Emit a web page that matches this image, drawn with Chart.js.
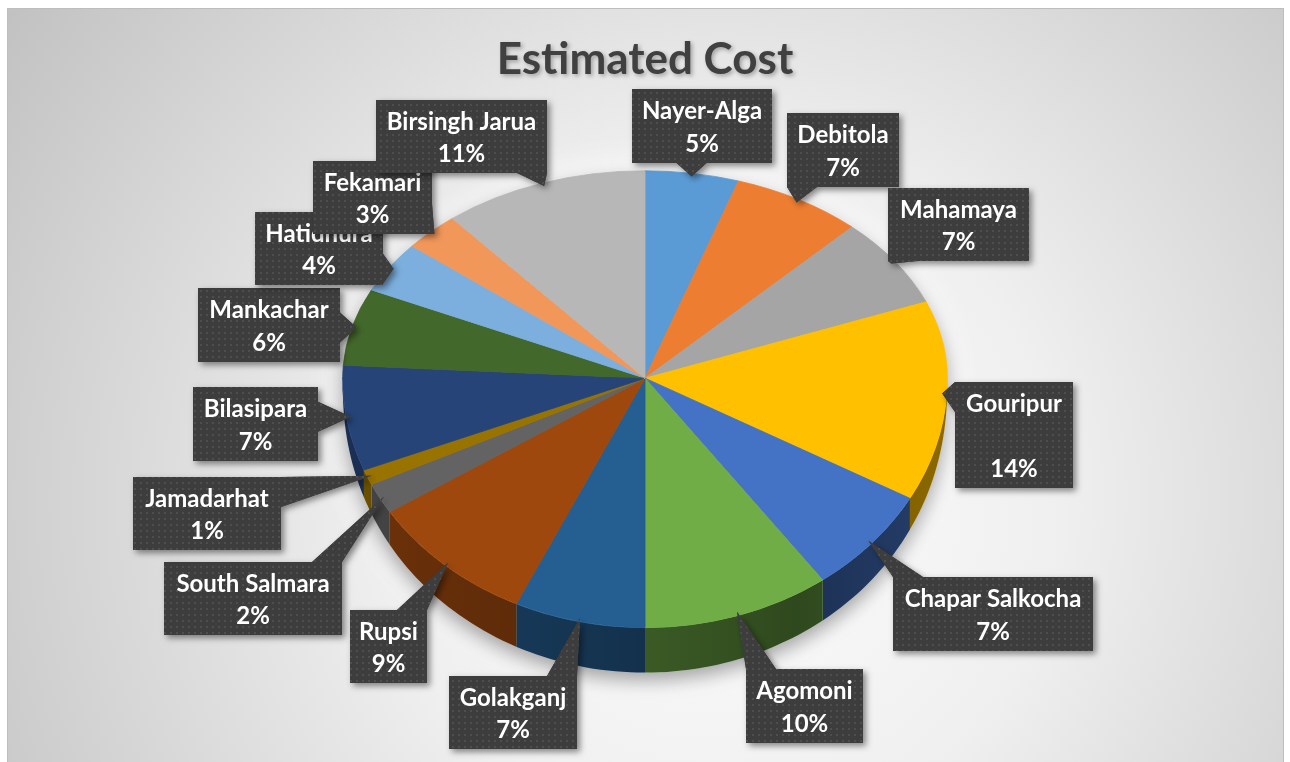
<!DOCTYPE html>
<html>
<head>
<meta charset="utf-8">
<title>Estimated Cost</title>
<script src="https://cdn.jsdelivr.net/npm/chart.js@4.4.1/dist/chart.umd.min.js"></script>
<style>
  html, body { margin: 0; padding: 0; background: #fff; overflow: hidden; }
  #costChart { display: block; }
</style>
</head>
<body>
<canvas id="costChart" width="1290" height="762"></canvas>
<script>
// share of the estimated cost per block, clockwise from 12 o'clock
const places = ["Nayer-Alga", "Debitola", "Mahamaya", "Gouripur", "Chapar Salkocha", "Agomoni", "Golakganj",
  "Rupsi", "South Salmara", "Jamadarhat", "Bilasipara", "Mankachar", "Hatidhura", "Fekamari", "Birsingh Jarua"];
const costShare = [5, 7, 7, 14, 7, 10, 7, 9, 2, 1, 7, 6, 4, 3, 11];
const sliceColors = ["#5b9bd5", "#ed7d31", "#a5a5a5", "#ffc000", "#4472c4", "#70ad47", "#255e91",
  "#9e480e", "#636363", "#997300", "#264478", "#43682b", "#7cafdd", "#f1975a", "#b7b7b7"];

// callout boxes [left, top, width, height]; Gouripur keeps an empty line between name and value
const calloutBoxes = [
  [632, 89, 140, 74], [787, 113, 112, 74], [888, 188, 141, 73], [955, 382, 118, 106], [893, 577, 200, 74],
  [746, 669, 117, 74], [449, 676, 128, 73], [350, 610, 77, 73], [164, 562, 178, 73], [133, 477, 148, 73],
  [193, 387, 125, 74], [198, 288, 142, 74], [255, 212, 128, 73], [313, 161, 119, 73], [376, 100, 171, 73]
];

const TILT_UP = 0.686, TILT_DOWN = 0.825, DEPTH = 45;

const panelBg = {
  id: "panelBg",
  beforeDraw(chart) {
    const { ctx, width, height } = chart;
    ctx.save();
    ctx.fillStyle = "#fff";
    ctx.fillRect(0, 0, width, height);
    const g = ctx.createRadialGradient(720, 500, 0, 720, 500, 860);
    g.addColorStop(0, "#fdfdfd");
    g.addColorStop(0.4, "#efefef");
    g.addColorStop(1, "#c2c2c2");
    ctx.fillStyle = g;
    ctx.fillRect(7, 8, 1277, height - 8);
    ctx.strokeStyle = "#bdbdbd";
    ctx.lineWidth = 1;
    ctx.strokeRect(7.5, 8.5, 1276, height);
    ctx.restore();
    // soft shadow under the title text, cleared again before the pie
    ctx.shadowColor = "rgba(0,0,0,0.3)";
    ctx.shadowBlur = 4;
    ctx.shadowOffsetX = 2;
    ctx.shadowOffsetY = 2;
  }
};

let dotPattern = null;
function getPattern(ctx) {
  if (dotPattern) return dotPattern;
  const c = document.createElement("canvas");
  c.width = 6; c.height = 6;
  const p = c.getContext("2d");
  p.fillStyle = "#3d3d3d"; p.fillRect(0, 0, 6, 6);
  p.fillStyle = "#4e4e4e"; p.fillRect(2, 2, 2, 2);
  dotPattern = ctx.createPattern(c, "repeat");
  return dotPattern;
}

const tiltedPie = {
  id: "tiltedPie",
  beforeDatasetsDraw(chart) {
    const { ctx, width, height } = chart;
    ctx.shadowColor = "transparent";
    ctx.shadowBlur = 0;
    ctx.shadowOffsetX = 0;
    ctx.shadowOffsetY = 0;
    const arcs = chart.getDatasetMeta(0).data;
    const cx = arcs[0].x, cy = arcs[0].y, r = arcs[0].outerRadius;
    const rim = (t, rr = r) => {
      const s = Math.sin(t);
      return [cx + rr * Math.cos(t), cy + rr * s * (s < 0 ? TILT_UP : TILT_DOWN)];
    };
    const drop = t => DEPTH * Math.sqrt(Math.max(0, Math.sin(t)));

    // outline of the whole body, used for glow and drop shadow
    const outline = () => {
      ctx.beginPath();
      for (let i = 0; i <= 60; i++) {
        const t = Math.PI * i / 60, p = rim(t);
        i ? ctx.lineTo(p[0], p[1] + drop(t)) : ctx.moveTo(p[0], p[1] + drop(t));
      }
      for (let i = 0; i <= 60; i++) {
        const t = Math.PI + Math.PI * i / 60, p = rim(t);
        ctx.lineTo(p[0], p[1]);
      }
      ctx.closePath();
    };
    ctx.save();
    outline();
    ctx.shadowColor = "rgba(255,255,255,0.95)";
    ctx.shadowBlur = 40;
    ctx.fillStyle = "#f4f4f4";
    ctx.fill();
    ctx.shadowColor = "rgba(0,0,0,0.35)";
    ctx.shadowBlur = 18;
    ctx.shadowOffsetY = 8;
    ctx.fill();
    ctx.restore();

    // side walls on the front half
    const wallShade = ctx.createLinearGradient(cx - r, 0, cx + r, 0);
    wallShade.addColorStop(0, "rgba(0,0,0,0.3)");
    wallShade.addColorStop(0.5, "rgba(0,0,0,0.48)");
    wallShade.addColorStop(0.75, "rgba(0,0,0,0.58)");
    wallShade.addColorStop(1, "rgba(0,0,0,0.45)");
    arcs.forEach((a, i) => {
      const lo = Math.max(a.startAngle, 0), hi = Math.min(a.endAngle, Math.PI);
      if (lo >= hi) return;
      const n = Math.max(4, Math.ceil((hi - lo) * 40));
      ctx.beginPath();
      for (let k = 0; k <= n; k++) {
        const t = lo + (hi - lo) * k / n, p = rim(t);
        k ? ctx.lineTo(p[0], p[1]) : ctx.moveTo(p[0], p[1]);
      }
      for (let k = n; k >= 0; k--) {
        const t = lo + (hi - lo) * k / n, p = rim(t);
        ctx.lineTo(p[0], p[1] + drop(t));
      }
      ctx.closePath();
      ctx.fillStyle = sliceColors[i];
      ctx.fill();
      ctx.fillStyle = wallShade;
      ctx.fill();
    });

    // top face: the circle is squeezed differently above and below the centre
    [[0, cy + 0.5, TILT_UP], [cy - 0.5, height, TILT_DOWN]].forEach(([y0, y1, k]) => {
      ctx.save();
      ctx.beginPath();
      ctx.rect(0, y0, width, y1 - y0);
      ctx.clip();
      ctx.translate(cx, cy);
      ctx.scale(1, k);
      ctx.translate(-cx, -cy);
      arcs.forEach(a => a.draw(ctx));
      ctx.restore();
    });

    // callouts
    const total = costShare.reduce((s, v) => s + v, 0);
    const pattern = getPattern(ctx);
    arcs.forEach((a, i) => {
      const [bx, by, bw, bh] = calloutBoxes[i];
      const [tx, ty] = rim((a.startAngle + a.endAngle) / 2, r * 0.985);
      const dx = tx < bx ? bx - tx : tx > bx + bw ? tx - bx - bw : 0;
      const dy = ty < by ? by - ty : ty > by + bh ? ty - by - bh : 0;
      let b1, b2;
      if (dy >= dx) {
        const ey = ty < by ? by : by + bh;
        const x0 = Math.min(Math.max(tx - 15, bx), bx + bw - 30);
        b1 = [x0, ey]; b2 = [x0 + 30, ey];
      } else {
        const ex = tx < bx ? bx : bx + bw;
        const y0 = Math.min(Math.max(ty - 15, by), by + bh - 30);
        b1 = [ex, y0]; b2 = [ex, y0 + 30];
      }
      ctx.save();
      ctx.beginPath();
      ctx.rect(bx, by, bw, bh);
      ctx.moveTo(tx, ty);
      ctx.lineTo(b1[0], b1[1]);
      ctx.lineTo(b2[0], b2[1]);
      ctx.closePath();
      ctx.shadowColor = "rgba(0,0,0,0.45)";
      ctx.shadowBlur = 6;
      ctx.shadowOffsetX = 3;
      ctx.shadowOffsetY = 3;
      ctx.fillStyle = "#3d3d3d";
      ctx.fill();
      ctx.shadowColor = "transparent";
      ctx.fillStyle = pattern;
      ctx.fill();
      ctx.fillStyle = "#fff";
      ctx.font = "bold 24px Lato";
      ctx.textAlign = "center";
      ctx.textBaseline = "alphabetic";
      ctx.fillText(places[i], bx + bw / 2, by + 30);
      ctx.fillText(Math.round(costShare[i] / total * 100) + "%", bx + bw / 2, by + bh - 11);
      ctx.restore();
    });
    return false;
  }
};

new Chart(document.getElementById("costChart"), {
  type: "pie",
  data: {
    labels: places,
    datasets: [{ data: costShare, backgroundColor: sliceColors, borderColor: sliceColors, borderWidth: 1 }]
  },
  options: {
    responsive: false,
    animation: false,
    events: [],
    layout: { padding: { top: 0, bottom: 81, left: 0, right: 0 } },
    plugins: {
      legend: { display: false },
      tooltip: { enabled: false },
      title: {
        display: true, text: "Estimated Cost", color: "#404040",
        font: { family: "Lato", size: 44, weight: "bold", lineHeight: 1.1 },
        padding: { top: 36, bottom: -9 }
      }
    }
  },
  plugins: [panelBg, tiltedPie]
});
</script>
</body>
</html>
